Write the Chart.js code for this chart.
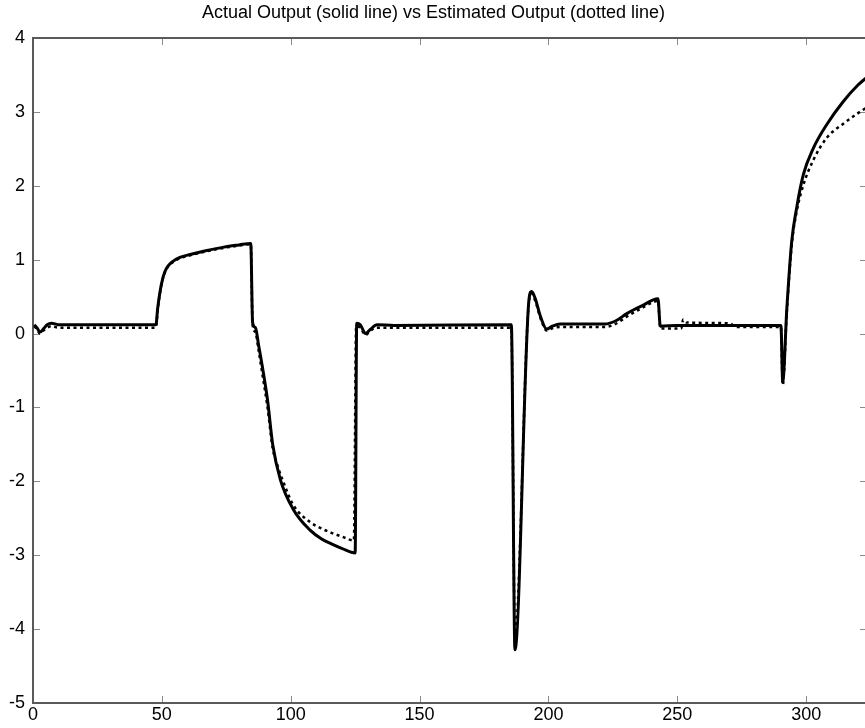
<!DOCTYPE html>
<html>
<head>
<meta charset="utf-8">
<script src="https://cdn.jsdelivr.net/npm/chart.js@4.4.1/dist/chart.umd.min.js"></script>
<style>
  html, body { margin: 0; padding: 0; background: #fff; overflow: hidden; }
  #wrap { position: relative; width: 867px; height: 728px; }
</style>
</head>
<body>
<div id="wrap"><canvas id="mychart"></canvas></div>
<script>
// actual output (solid)
var actualX = [0.5, 1.5, 2.7, 4.0, 5.5, 7.2, 9.8, 47.7, 48.4, 49.3, 50.3, 51.2, 52.5, 54.4, 57, 61, 67, 74, 80, 84.5,
  85.2, 86.3, 87.5, 89, 91, 93, 96, 101, 107.5, 112, 116, 120, 125, 125.6, 127, 129, 131, 133.5, 140,
  185.6, 187, 192.5, 193.5, 194.8, 197, 199.3, 201.5, 204.5, 222, 226, 230.4, 236, 242.5, 243.4, 250,
  290.2, 290.9, 292.5, 294.4, 296.3, 298.9, 302.8, 308, 314.4, 320, 324];
var actualY = [0.12, 0.08, 0.02, 0.06, 0.12, 0.14, 0.12, 0.12, 0.35, 0.57, 0.74, 0.84, 0.92, 0.98, 1.03, 1.07, 1.12, 1.17, 1.20, 1.22,
  0.15, 0.08, -0.15, -0.45, -0.9, -1.5, -1.98, -2.38, -2.66, -2.78, -2.85, -2.91, -2.97, 0.14, 0.12, 0.0, 0.06, 0.12, 0.11,
  0.12, -4.28, 0.48, 0.57, 0.48, 0.22, 0.06, 0.1, 0.13, 0.13, 0.17, 0.27, 0.37, 0.47, 0.1, 0.11,
  0.11, -0.65, 0.34, 1.25, 1.7, 2.15, 2.51, 2.83, 3.14, 3.36, 3.48];

// estimated output (dotted)
var estX = [0.5, 1.5, 2.7, 4.0, 5.5, 7.2, 9.8, 47.7, 48.4, 49.3, 50.3, 51.2, 52.5, 54.4, 57, 61, 67, 74, 80, 84.5,
  85.2, 86.3, 87.5, 89, 91, 93, 95, 96.5, 101, 107.5, 112, 116, 120, 124.5, 125.4, 127, 129, 131, 133.5, 140,
  185.6, 187, 192.5, 193.5, 194.8, 197, 199.3, 201.5, 204.5, 222, 226, 230.4, 236, 242.5, 243.4, 251.5, 252.3, 253.5, 270, 273,
  290.2, 290.9, 292.5, 294.4, 296.3, 298.9, 302.8, 308, 314.4, 320, 324];
var estY = [0.1, 0.06, 0.0, 0.04, 0.08, 0.1, 0.08, 0.08, 0.33, 0.55, 0.73, 0.83, 0.91, 0.97, 1.02, 1.06, 1.11, 1.16, 1.19, 1.21,
  0.12, 0.02, -0.22, -0.55, -1.0, -1.55, -1.8, -1.95, -2.32, -2.55, -2.64, -2.7, -2.75, -2.8, 0.1, 0.08, -0.02, 0.04, 0.08, 0.08,
  0.08, -4.1, 0.45, 0.54, 0.45, 0.2, 0.04, 0.07, 0.09, 0.09, 0.13, 0.23, 0.34, 0.44, 0.07, 0.07, 0.19, 0.15, 0.14, 0.09,
  0.09, -0.7, 0.3, 1.2, 1.65, 2.01, 2.35, 2.65, 2.84, 2.98, 3.07];

var xTicks = [0, 50, 100, 150, 200, 250, 300];
var yTicks = [-5, -4, -3, -2, -1, 0, 1, 2, 3, 4];

function pairs(xs, ys) {
  return xs.map(function (x, i) { return { x: x, y: ys[i] }; });
}

// matlab style box with inward ticks
var boxPlugin = {
  id: 'box',
  beforeDatasetsDraw: function (chart) {
    var c = chart.ctx, a = chart.chartArea;
    var sx = chart.scales.x, sy = chart.scales.y;
    var len = 7;
    c.save();
    c.strokeStyle = '#8a8a8a';
    c.lineWidth = 1;
    xTicks.forEach(function (v) {
      var p = Math.round(sx.getPixelForValue(v)) + 0.5;
      c.beginPath();
      c.moveTo(p, a.bottom); c.lineTo(p, a.bottom - len);
      c.moveTo(p, a.top); c.lineTo(p, a.top + len);
      c.stroke();
    });
    yTicks.forEach(function (v) {
      var p = Math.round(sy.getPixelForValue(v)) + 0.5;
      c.beginPath();
      c.moveTo(a.left, p); c.lineTo(a.left + len, p);
      c.moveTo(a.right, p); c.lineTo(a.right - len, p);
      c.stroke();
    });
    c.strokeStyle = '#5a5a5a';
    c.lineWidth = 2;
    c.strokeRect(a.left, a.top, a.right - a.left, a.bottom - a.top);
    c.restore();
  }
};

var font = 'Liberation Sans, Arial, sans-serif';
var ctx = document.getElementById('mychart').getContext('2d');
var chart = new Chart(ctx, {
  type: 'line',
  data: {
    datasets: [{
      label: 'Actual Output',
      data: pairs(actualX, actualY),
      borderColor: '#000',
      borderWidth: 3,
      pointRadius: 0,
      cubicInterpolationMode: 'monotone'
    }, {
      label: 'Estimated Output',
      data: pairs(estX, estY),
      borderColor: '#000',
      borderWidth: 2.5,
      borderDash: [3, 3.5],
      pointRadius: 0,
      cubicInterpolationMode: 'monotone'
    }]
  },
  options: {
    responsive: true,
    maintainAspectRatio: false,
    animation: false,
    layout: { padding: 0 },
    plugins: {
      legend: { display: false },
      tooltip: { enabled: false },
      title: {
        display: true,
        text: 'Actual Output (solid line) vs Estimated Output (dotted line)',
        color: '#000',
        font: { family: font, size: 18, weight: 'normal', lineHeight: 1.2 },
        padding: { top: 2, bottom: 14.4 }
      }
    },
    scales: {
      x: {
        type: 'linear',
        min: 0,
        max: 323.6,
        afterFit: function (s) { s.height = 25; },
        grid: { display: false, drawTicks: false },
        border: { display: false },
        ticks: {
          stepSize: 50,
          includeBounds: false,
          maxRotation: 0,
          padding: 1,
          color: '#000',
          font: { family: font, size: 18 }
        }
      },
      y: {
        min: -5,
        max: 4,
        afterFit: function (s) { s.width = 33; },
        grid: { display: false, drawTicks: false },
        border: { display: false },
        ticks: {
          stepSize: 1,
          padding: 8,
          color: '#000',
          font: { family: font, size: 18 }
        }
      }
    }
  },
  plugins: [boxPlugin]
});
</script>
</body>
</html>
